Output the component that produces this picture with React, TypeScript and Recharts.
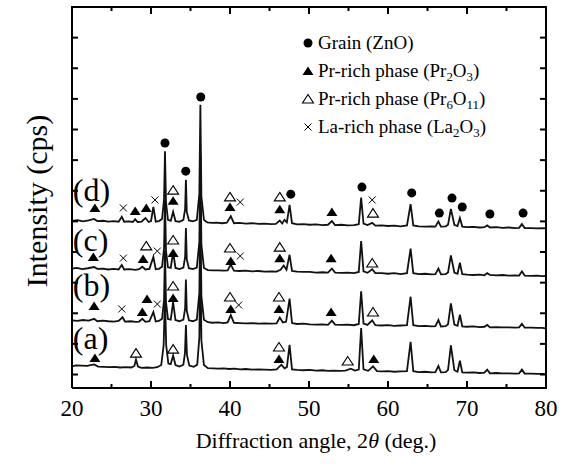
import React from "react";
import { ComposedChart, Line, Scatter, XAxis, YAxis, Legend, Label } from "recharts";

const FONT = "'Liberation Serif', 'Times New Roman', serif";

// 2θ axis (deg.) and intensity axis (arbitrary cps units)
const angleTicks = [20, 25, 30, 35, 40, 45, 50, 55, 60, 65, 70, 75, 80];
const intensityTicks = [44, 144, 244, 344, 444, 544, 644, 744, 844, 944, 1044, 1144];
const angleRange = [20, 80];
const intensityRange = [0, 1244];

// vertical offset of each pattern in the stack
const sampleNames = ["(a)", "(b)", "(c)", "(d)"];
const sampleOffsets = [30, 180, 350, 505];
const sampleLabelY = [163, 336, 483, 646];

// [2θ, intensity]
const patternA: [number, number][] = [
  [20, 41], [20.5, 44], [21.2, 43], [21.9, 42], [22.8, 47], [23.3, 40], [24.0, 39], [24.7, 38], [25.4, 39], [26.1, 37],
  [26.8, 38], [27.5, 37], [27.9, 42], [28.1, 63], [28.35, 40], [28.8, 36], [29.5, 37], [30.2, 36], [30.8, 38], [31.3, 45],
  [31.6, 110], [31.77, 272], [31.92, 110], [32.2, 50], [32.5, 48], [32.8, 76], [33.1, 45], [33.6, 40], [34.1, 46], [34.3, 85],
  [34.42, 176], [34.55, 78], [34.85, 43], [35.4, 39], [35.85, 46], [36.12, 135], [36.25, 420], [36.38, 125], [36.7, 45], [37.2, 35],
  [37.8, 34], [38.5, 33], [39.2, 34], [39.9, 32], [40.6, 33], [41.3, 31], [42.0, 32], [42.8, 30], [43.6, 31], [44.4, 30],
  [45.2, 29], [45.9, 31], [46.5, 46], [46.9, 34], [47.2, 38], [47.54, 111], [47.85, 31], [48.5, 29], [49.3, 28], [50.1, 29],
  [50.9, 27], [51.7, 28], [52.4, 26], [53.1, 27], [53.9, 26], [54.6, 27], [55.3, 33], [55.8, 27], [56.3, 30], [56.6, 166],
  [56.9, 31], [57.5, 26], [58.1, 41], [58.6, 25], [59.3, 24], [60.0, 25], [60.8, 23], [61.6, 24], [62.4, 25], [62.86, 121],
  [63.2, 25], [63.9, 22], [64.7, 23], [65.5, 21], [66.0, 22], [66.38, 42], [66.7, 21], [67.3, 22], [67.6, 29], [67.96, 109],
  [68.4, 28], [68.8, 23], [69.1, 59], [69.4, 21], [70.0, 20], [70.8, 21], [71.6, 19], [72.2, 20], [72.56, 30], [72.9, 18],
  [73.7, 19], [74.5, 18], [75.3, 18], [76.1, 17], [76.6, 18], [76.95, 30], [77.3, 17], [78.1, 17], [78.9, 16], [79.5, 16], [80, 15],
];

const patternB: [number, number][] = [
  [20, 41], [20.7, 39], [21.4, 42], [22.1, 40], [22.8, 46], [23.2, 38], [23.9, 40], [24.6, 38], [25.3, 37], [25.9, 39],
  [26.4, 51], [26.7, 37], [27.4, 38], [28.1, 36], [28.5, 37], [28.9, 46], [29.3, 36], [29.8, 38], [30.3, 68], [30.6, 37],
  [31.0, 39], [31.4, 46], [31.65, 108], [31.77, 270], [31.9, 100], [32.15, 45], [32.5, 43], [32.8, 100], [33.1, 42], [33.6, 38],
  [34.1, 43], [34.32, 80], [34.42, 174], [34.53, 72], [34.8, 41], [35.3, 38], [35.8, 43], [36.12, 130], [36.25, 418], [36.38, 120],
  [36.7, 43], [37.2, 35], [37.8, 33], [38.5, 34], [39.2, 32], [39.7, 34], [40.1, 58], [40.5, 33], [41.2, 32], [42.0, 31],
  [42.8, 32], [43.6, 30], [44.4, 31], [45.2, 30], [45.9, 31], [46.3, 50], [46.7, 34], [47.1, 36], [47.54, 112], [47.85, 32],
  [48.5, 29], [49.3, 30], [50.1, 28], [50.9, 27], [51.7, 28], [52.4, 26], [52.9, 40], [53.3, 27], [54.1, 26], [54.9, 27],
  [55.7, 25], [56.3, 29], [56.6, 136], [56.9, 30], [57.4, 26], [58.0, 41], [58.4, 25], [59.2, 24], [60.0, 25], [60.8, 23],
  [61.6, 24], [62.4, 25], [62.86, 118], [63.2, 25], [63.9, 22], [64.7, 23], [65.5, 21], [66.0, 22], [66.38, 42], [66.7, 21],
  [67.3, 22], [67.6, 28], [67.96, 96], [68.4, 27], [68.8, 23], [69.1, 59], [69.4, 21], [70.0, 20], [70.8, 21], [71.6, 19],
  [72.2, 20], [72.56, 26], [72.9, 18], [73.7, 19], [74.5, 18], [75.3, 18], [76.1, 17], [76.6, 18], [76.95, 30], [77.3, 17],
  [78.1, 17], [78.9, 16], [79.5, 16], [80, 15],
];

const patternC: [number, number][] = [
  [20, 40], [20.6, 42], [21.3, 38], [22.0, 41], [22.8, 45], [23.2, 39], [23.9, 40], [24.6, 37], [25.3, 39], [25.9, 37],
  [26.3, 52], [26.6, 37], [27.3, 38], [28.0, 36], [28.5, 38], [28.9, 46], [29.3, 37], [29.8, 39], [30.3, 78], [30.6, 38],
  [31.0, 39], [31.4, 46], [31.65, 105], [31.77, 262], [31.9, 98], [32.15, 44], [32.5, 42], [32.8, 94], [33.1, 42], [33.6, 38],
  [34.1, 43], [34.32, 78], [34.42, 172], [34.53, 70], [34.8, 41], [35.3, 38], [35.8, 43], [36.12, 128], [36.25, 412], [36.38, 118],
  [36.7, 42], [37.2, 35], [37.8, 34], [38.5, 34], [39.2, 33], [39.7, 34], [40.1, 53], [40.5, 33], [41.2, 32], [42.0, 33],
  [42.8, 31], [43.6, 32], [44.4, 30], [45.2, 31], [45.9, 30], [46.4, 36], [46.8, 50], [47.15, 36], [47.54, 85], [47.85, 32],
  [48.5, 30], [49.3, 29], [50.1, 29], [50.9, 27], [51.7, 28], [52.4, 27], [52.9, 40], [53.3, 27], [54.1, 26], [54.9, 27],
  [55.7, 25], [56.3, 29], [56.6, 130], [56.9, 31], [57.4, 26], [58.0, 38], [58.4, 25], [59.2, 25], [60.0, 23], [60.8, 25],
  [61.6, 22], [62.4, 25], [62.86, 105], [63.2, 25], [63.9, 22], [64.7, 23], [65.5, 21], [66.0, 22], [66.38, 40], [66.7, 21],
  [67.3, 22], [67.6, 27], [67.96, 83], [68.4, 27], [68.8, 23], [69.1, 59], [69.4, 22], [70.0, 20], [70.8, 19], [71.6, 20],
  [72.2, 18], [72.56, 25], [72.9, 19], [73.7, 18], [74.5, 19], [75.3, 17], [76.1, 18], [76.6, 17], [76.95, 31], [77.3, 17],
  [78.1, 16], [78.9, 17], [79.5, 15], [80, 16],
];

const patternD: [number, number][] = [
  [20, 41], [20.7, 43], [21.4, 39], [22.1, 42], [22.8, 47], [23.2, 40], [23.9, 41], [24.6, 38], [25.3, 40], [25.9, 38],
  [26.3, 54], [26.6, 38], [27.2, 39], [27.7, 37], [28.0, 46], [28.3, 37], [28.8, 38], [29.3, 50], [29.7, 37], [30.0, 40],
  [30.3, 86], [30.6, 38], [31.0, 40], [31.4, 47], [31.65, 110], [31.77, 268], [31.9, 100], [32.15, 44], [32.5, 41], [32.8, 70],
  [33.1, 40], [33.6, 38], [34.1, 44], [34.32, 80], [34.42, 175], [34.53, 70], [34.8, 42], [35.3, 39], [35.8, 44], [36.12, 130],
  [36.25, 420], [36.38, 120], [36.7, 44], [37.1, 36], [37.7, 34], [38.3, 35], [39.0, 33], [39.6, 35], [40.1, 56], [40.5, 33],
  [41.2, 34], [42.0, 32], [42.8, 33], [43.6, 31], [44.4, 32], [45.2, 30], [45.8, 31], [46.3, 42], [46.6, 32], [46.9, 44],
  [47.2, 36], [47.54, 93], [47.85, 33], [48.5, 29], [49.3, 30], [50.1, 28], [50.9, 29], [51.7, 27], [52.4, 28], [52.9, 40],
  [53.3, 27], [54.1, 28], [54.9, 26], [55.7, 27], [56.3, 30], [56.6, 117], [56.9, 32], [57.4, 27], [58.0, 34], [58.4, 25],
  [59.2, 26], [60.0, 24], [60.8, 25], [61.6, 23], [62.4, 26], [62.86, 95], [63.2, 26], [63.9, 23], [64.7, 22], [65.5, 23],
  [66.0, 22], [66.38, 39], [66.7, 22], [67.3, 23], [67.6, 28], [67.96, 80], [68.4, 28], [68.8, 24], [69.1, 50], [69.4, 22],
  [70.0, 20], [70.8, 21], [71.6, 19], [72.2, 20], [72.56, 26], [72.9, 19], [73.7, 20], [74.5, 18], [75.3, 19], [76.1, 17],
  [76.6, 18], [76.95, 30], [77.3, 17], [78.1, 17], [78.9, 16], [79.5, 17], [80, 16],
];

// phase markers [2θ, height in the stacked plot]
const znoMarks: [number, number][] = [
  [36.3, 950], [31.77, 800], [34.4, 708], [47.7, 633], [56.7, 656], [63.0, 637], [66.5, 571], [68.1, 620], [69.4, 591], [72.9, 568], [77.1, 571],
];
const pr2o3Marks: [number, number][] = [
  [22.9, 588], [28.0, 578], [29.4, 588], [32.8, 611], [40.0, 591], [46.3, 584], [52.9, 575],
  [22.7, 428], [29.0, 421], [32.8, 441], [40.1, 415], [46.3, 424], [52.8, 424],
  [22.8, 268], [29.5, 291], [28.9, 248], [32.8, 294], [40.1, 258], [46.2, 258], [52.8, 248],
  [22.9, 98], [46.2, 95], [58.2, 95],
];
const pr6o11Marks: [number, number][] = [
  [32.8, 646], [40.0, 624], [46.3, 624], [58.1, 571],
  [29.4, 464], [32.8, 483], [40.0, 457], [46.3, 460], [58.0, 408],
  [32.8, 333], [40.0, 297], [46.2, 297], [58.1, 248],
  [28.1, 114], [32.8, 127], [46.2, 134], [54.9, 88],
];
const la2o3Marks: [number, number][] = [
  [26.5, 588], [30.5, 614], [41.3, 607], [58.0, 614],
  [26.5, 424], [30.8, 447], [41.3, 431],
  [26.3, 258], [30.8, 274], [41.1, 271],
];

const legendKinds = ["circle", "filled", "open", "cross"];
const legendNames = ["Grain (ZnO)", "Pr-rich phase (Pr_2O_3)", "Pr-rich phase (Pr_6O_11)", "La-rich phase (La_2O_3)"];

const patterns = [patternA, patternB, patternC, patternD].map((p, i) =>
  p.map(([x, y]) => ({ x, y: y + sampleOffsets[i] }))
);
const toPts = (arr: [number, number][]) => arr.map(([x, y]) => ({ x, y }));
const sampleLabels = sampleNames.map((label, i) => ({ x: 20.1, y: sampleLabelY[i], label }));

// plot frame and inward tick marks, placed through the chart scales
const [xLo, xHi] = angleRange;
const [yLo, yHi] = intensityRange;
const frameOutline = [
  { x: xLo, y: yLo }, { x: xHi, y: yLo }, { x: xHi, y: yHi }, { x: xLo, y: yHi }, { x: xLo, y: yLo },
];
const bottomTickPts = angleTicks.map((t) => ({ x: t, y: yLo, side: "b" }));
const topTickPts = angleTicks.map((t) => ({ x: t, y: yHi, side: "t" }));
const leftTickPts = intensityTicks.map((v) => ({ x: xLo, y: v, side: "l" }));
const rightTickPts = intensityTicks.map((v) => ({ x: xHi, y: v, side: "r" }));

function TickMark(p: any) {
  const { cx, cy, payload } = p;
  const len = payload.side === "b" || payload.side === "t" ? (payload.x % 10 === 0 ? 7 : 4) : 6;
  const d =
    payload.side === "b" ? `M${cx},${cy}V${cy - len}` :
    payload.side === "t" ? `M${cx},${cy}V${cy + len}` :
    payload.side === "l" ? `M${cx},${cy}H${cx + len}` : `M${cx},${cy}H${cx - len}`;
  return <path d={d} stroke="#000" strokeWidth={2} fill="none" />;
}

function PhaseMark({ kind, cx, cy }: { kind: string; cx: number; cy: number }) {
  if (kind === "circle") return <circle cx={cx} cy={cy} r={4.5} fill="#000" />;
  if (kind === "filled")
    return <polygon points={`${cx},${cy - 4.5} ${cx + 5.5},${cy + 4} ${cx - 5.5},${cy + 4}`} fill="#000" />;
  if (kind === "open")
    return (
      <polygon
        points={`${cx},${cy - 4.5} ${cx + 5.5},${cy + 4} ${cx - 5.5},${cy + 4}`}
        fill="none"
        stroke="#000"
        strokeWidth={1.1}
      />
    );
  return (
    <g stroke="#000" strokeWidth={1}>
      <line x1={cx - 3.5} y1={cy - 3.5} x2={cx + 3.5} y2={cy + 3.5} />
      <line x1={cx - 3.5} y1={cy + 3.5} x2={cx + 3.5} y2={cy - 3.5} />
    </g>
  );
}

function withSubs(text: string) {
  const parts = text.split(/_(\d+)/);
  return parts.map((p, i) =>
    i % 2 === 1 ? (
      <sub key={i} style={{ fontSize: "0.68em", verticalAlign: "-0.28em", lineHeight: 0 }}>
        {p}
      </sub>
    ) : (
      <span key={i}>{p}</span>
    )
  );
}

function LegendBox() {
  return (
    <div style={{ fontFamily: FONT, fontSize: 19, color: "#000" }}>
      {legendNames.map((name, i) => (
        <div key={name} style={{ display: "flex", alignItems: "center", height: 28 }}>
          <svg width={20} height={20} style={{ flexShrink: 0 }}>
            <PhaseMark kind={legendKinds[i]} cx={10} cy={10} />
          </svg>
          <span style={{ whiteSpace: "nowrap" }}>{withSubs(name)}</span>
        </div>
      ))}
    </div>
  );
}

const AngleLabel = (props: any) => {
  const { x, y, payload } = props;
  if (payload.value % 10 !== 0) return <g />;
  return (
    <text x={x} y={y + 28} textAnchor="middle" fontFamily={FONT} fontSize={23} fill="#000">
      {payload.value}
    </text>
  );
};

const frameLine = { stroke: "#000", strokeWidth: 2 };

export default function App() {
  return (
    <div style={{ position: "absolute", left: 0, top: 0, width: 569, height: 470, background: "#fff" }}>
      <ComposedChart width={569} height={470} margin={{ top: 7, right: 22, left: 71, bottom: 0 }}>
        <XAxis
          dataKey="x"
          type="number"
          domain={angleRange}
          ticks={angleTicks}
          interval={0}
          height={82}
          tickSize={0}
          tickMargin={0}
          tickLine={false}
          axisLine={frameLine}
          tick={<AngleLabel />}
        >
          <Label
            content={() => (
              <g>
                <text x={316} y={448} textAnchor="middle" fontFamily={FONT} fontSize={22} fill="#000">
                  Diffraction angle, 2<tspan fontStyle="italic">θ</tspan> (deg.)
                </text>
                <text
                  x={36}
                  y={201}
                  transform="rotate(-90 36 201)"
                  textAnchor="middle"
                  dominantBaseline="central"
                  fontFamily={FONT}
                  fontSize={30}
                  fill="#000"
                >
                  Intensity (cps)
                </text>
              </g>
            )}
          />
        </XAxis>
        <YAxis type="number" domain={intensityRange} ticks={intensityTicks} width={1} tick={false} tickLine={false} axisLine={frameLine} />
        <YAxis yAxisId="r" orientation="right" type="number" domain={intensityRange} width={1} tick={false} tickLine={false} axisLine={frameLine} />
        {patterns.map((data, i) => (
          <Line
            key={sampleNames[i]}
            data={data}
            dataKey="y"
            type="linear"
            stroke="#111"
            strokeWidth={1.8}
            dot={false}
            isAnimationActive={false}
            legendType="none"
          />
        ))}
        <Scatter data={toPts(znoMarks)} dataKey="y" isAnimationActive={false} legendType="none"
          shape={(p: any) => <PhaseMark kind="circle" cx={p.cx} cy={p.cy} />} />
        <Scatter data={toPts(pr2o3Marks)} dataKey="y" yAxisId="r" isAnimationActive={false} legendType="none"
          shape={(p: any) => <PhaseMark kind="filled" cx={p.cx} cy={p.cy} />} />
        <Scatter data={toPts(pr6o11Marks)} dataKey="y" isAnimationActive={false} legendType="none"
          shape={(p: any) => <PhaseMark kind="open" cx={p.cx} cy={p.cy} />} />
        <Scatter data={toPts(la2o3Marks)} dataKey="y" isAnimationActive={false} legendType="none"
          shape={(p: any) => <PhaseMark kind="cross" cx={p.cx} cy={p.cy} />} />
        <Scatter
          data={sampleLabels}
          dataKey="y"
          isAnimationActive={false}
          legendType="none"
          shape={(p: any) => (
            <text x={p.cx} y={p.cy} dominantBaseline="central" fontFamily={FONT} fontSize={32} fill="#000">
              {p.payload.label}
            </text>
          )}
        />
        <Scatter data={[...bottomTickPts, ...topTickPts, ...leftTickPts, ...rightTickPts]} dataKey="y"
          isAnimationActive={false} legendType="none" shape={(p: any) => <TickMark {...p} />} />
        <Line
          data={frameOutline}
          dataKey="y"
          type="linear"
          stroke="#000"
          strokeWidth={2}
          dot={false}
          isAnimationActive={false}
          legendType="none"
        />
        <Legend
          layout="vertical"
          align="center"
          verticalAlign="middle"
          wrapperStyle={{ left: 298, top: 29, width: 250, height: "auto" }}
          content={() => <LegendBox />}
        />
      </ComposedChart>
    </div>
  );
}
